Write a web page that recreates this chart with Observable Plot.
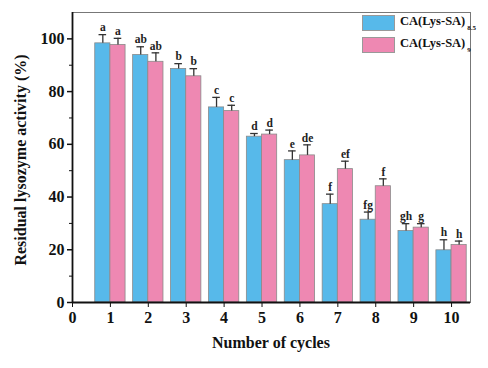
<!DOCTYPE html>
<html><head><meta charset="utf-8">
<script src="https://cdn.jsdelivr.net/npm/d3@7"></script>
<script src="https://cdn.jsdelivr.net/npm/@observablehq/plot@0.6"></script>
<style>
body{margin:0;background:#fff;}
#wrap{position:relative;width:488px;height:368px;font-family:"Liberation Serif","Times New Roman",serif;}
.leg{position:absolute;left:362px;display:flex;align-items:center;font-weight:bold;font-size:12.5px;color:#111;}
.sw{width:33px;height:16px;border:1px solid #999;margin-right:5px;box-sizing:border-box;}
.leg sub{font-size:7px;vertical-align:-5px;margin-left:2px;}
</style>
</head><body><div id="wrap"></div>
<script>
const cycles = [1,2,3,4,5,6,7,8,9,10];
const seriesNames = ["CA(Lys-SA)8.5","CA(Lys-SA)9"];
const blueVals = [98.3,93.9,88.6,74.0,62.9,54.0,37.3,31.4,27.1,19.8];
const blueErr  = [3.3,3.1,2.0,3.8,1.2,3.5,3.8,2.9,2.8,4.0];
const pinkVals = [97.7,91.3,85.8,72.6,63.7,55.8,50.6,44.1,28.4,21.8];
const pinkErr  = [2.5,3.4,2.9,2.2,1.7,4.0,3.0,2.8,1.5,1.5];
const blueLetters = ["a","ab","b","c","d","e","f","fg","gh","h"];
const pinkLetters = ["a","ab","b","c","d","de","ef","f","g","h"];
const xTicks = [0,1,2,3,4,5,6,7,8,9,10];
const yTicks = [0,20,40,60,80,100];
const yMinor = [10,30,50,70,90];
const colors = ["#57b9ea","#ee88b2"];

const data = [];
cycles.forEach((c,i)=>{
  data.push({c, s:0, v:blueVals[i], e:blueErr[i], lab:blueLetters[i], x1:c-0.4, x2:c, xc:c-0.2});
  data.push({c, s:1, v:pinkVals[i], e:pinkErr[i], lab:pinkLetters[i], x1:c, x2:c+0.4, xc:c+0.2});
});

const serif = "Liberation Serif, Times New Roman, serif";
const chart = Plot.plot({
  width: 488, height: 368,
  marginLeft: 72, marginRight: 18, marginTop: 12, marginBottom: 66,
  style: {fontFamily: serif, fontSize: "16px", fontWeight: "bold", color: "#111", background: "transparent"},
  x: {domain: [0,10.5], ticks: xTicks, tickFormat: d=>d, label: null},
  y: {domain: [0,110], ticks: yTicks, label: null},
  marks: [
    Plot.frame({stroke: "#777", strokeWidth: 1}),
    Plot.rectY(data, {x1:"x1", x2:"x2", y1:0, y2:"v", fill: d=>colors[d.s], stroke:"#8a8a8a", strokeWidth:0.8}),
    Plot.ruleX(data, {x:"xc", y1:"v", y2: d=>d.v+d.e, stroke:"#333", strokeWidth:1.3}),
    Plot.ruleY(data, {y: d=>d.v+d.e, x1: d=>d.xc-0.1, x2: d=>d.xc+0.1, stroke:"#333", strokeWidth:1.3}),
    Plot.text(data, {x:"xc", y: d=>d.v+d.e, text:"lab", dy:-7, fontSize:11.5, fontWeight:"bold", fill:"#222"}),
    Plot.axisY({ticks: yTicks, tickSize: 5, tickPadding: 3, fontSize: 16, label: null, strokeWidth: 1.5}),
    Plot.axisY({ticks: yMinor, tickSize: 3, text: null, label: null}),
    Plot.axisX({ticks: xTicks, tickSize: 5, tickPadding: 4, fontSize: 16, label: null, tickFormat: d=>d}),
    Plot.ruleX([0], {stroke:"#111", strokeWidth:1.8}),
    Plot.ruleY([0], {stroke:"#111", strokeWidth:1.8})
  ]
});
const wrap = document.getElementById("wrap");
wrap.appendChild(chart);
const svg = d3.select(chart);
svg.append("text").attr("x", 271).attr("y", 348).attr("text-anchor","middle")
  .style("font-family", serif).style("font-weight","bold").style("font-size","16px").attr("fill","#111")
  .text("Number of cycles");
svg.append("text").attr("transform","translate(26,160) rotate(-90)").attr("text-anchor","middle")
  .style("font-family", serif).style("font-weight","bold").style("font-size","16px").attr("fill","#111")
  .text("Residual lysozyme activity (%)");

const legTops = [14, 36];
seriesNames.forEach((n,i)=>{
  const d = document.createElement("div");
  d.className = "leg"; d.style.top = legTops[i]+"px";
  const base = n.startsWith("CA(Lys-SA)") ? "CA(Lys-SA)" : n;
  const sub = n.slice(base.length);
  d.innerHTML = `<div class="sw" style="background:${colors[i]}"></div><span>${base}<sub>${sub}</sub></span>`;
  wrap.appendChild(d);
});
</script>
</body></html>
